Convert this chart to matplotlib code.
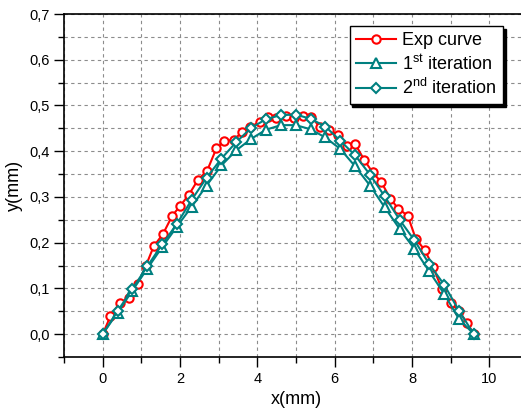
import matplotlib
matplotlib.use('Agg')
import matplotlib.pyplot as plt
from matplotlib.ticker import MultipleLocator, FuncFormatter

plt.rcParams['font.family'] = ['Liberation Sans', 'DejaVu Sans']
plt.rcParams['mathtext.fontset'] = 'custom'
plt.rcParams['mathtext.rm'] = 'Liberation Sans'
plt.rcParams['mathtext.it'] = 'Liberation Sans'

# Exp curve (measured)
x_exp = [0.0, 0.2, 0.44, 0.68, 0.91, 1.11, 1.32, 1.56, 1.80, 2.01, 2.23, 2.47, 2.70, 2.94,
         3.15, 3.39, 3.61, 3.82, 4.06, 4.27, 4.49, 4.74, 4.96, 5.17, 5.39, 5.62, 5.86, 6.08,
         6.31, 6.53, 6.77, 6.98, 7.21, 7.44, 7.65, 7.89, 8.10, 8.33, 8.55, 8.77, 9.00, 9.22,
         9.42, 9.6]
y_exp = [0.0, 0.039, 0.068, 0.079, 0.110, 0.148, 0.192, 0.219, 0.259, 0.281, 0.305, 0.338,
         0.357, 0.406, 0.422, 0.425, 0.442, 0.453, 0.464, 0.474, 0.472, 0.478, 0.472, 0.477,
         0.475, 0.453, 0.447, 0.436, 0.412, 0.416, 0.380, 0.354, 0.332, 0.296, 0.274, 0.259,
         0.208, 0.184, 0.146, 0.099, 0.067, 0.050, 0.025, 0.0]

# 1st iteration
x_it1 = [0.0, 0.384, 0.768, 1.152, 1.536, 1.92, 2.304, 2.688, 3.072, 3.456, 3.84, 4.224,
         4.608, 4.992, 5.376, 5.76, 6.144, 6.528, 6.912, 7.296, 7.68, 8.064, 8.448, 8.832,
         9.216, 9.6]
y_it1 = [0.0, 0.047, 0.095, 0.143, 0.190, 0.235, 0.279, 0.325, 0.369, 0.402, 0.427, 0.447,
         0.457, 0.457, 0.448, 0.430, 0.405, 0.367, 0.325, 0.277, 0.230, 0.186, 0.137, 0.088,
         0.033, 0.0]

# 2nd iteration
x_it2 = [0.0, 0.384, 0.768, 1.152, 1.536, 1.92, 2.304, 2.688, 3.072, 3.456, 3.84, 4.224,
         4.608, 4.992, 5.376, 5.76, 6.144, 6.528, 6.912, 7.296, 7.68, 8.064, 8.448, 8.832,
         9.216, 9.6]
y_it2 = [0.0, 0.050, 0.099, 0.148, 0.196, 0.241, 0.294, 0.342, 0.384, 0.420, 0.451, 0.470,
         0.479, 0.480, 0.471, 0.454, 0.423, 0.391, 0.349, 0.301, 0.250, 0.205, 0.153, 0.108,
         0.051, 0.0]

red = '#ff0000'
teal = '#008080'

fig = plt.figure(figsize=(5.21, 4.16), dpi=100)
ax = fig.add_axes([64 / 521, 59 / 416, 464 / 521, 343 / 416])

ax.plot(x_exp, y_exp, color=red, lw=1.5, marker='o', ms=6, mfc='white', mec=red,
        mew=1.5, label='Exp curve', zorder=3)
ax.plot(x_it1, y_it1, color=teal, lw=1.5, marker='^', ms=6.5, mfc='white', mec=teal,
        mew=1.5, label=r'1$^{\mathrm{st}}$ iteration', zorder=4)
ax.plot(x_it2, y_it2, color=teal, lw=1.5, marker='D', ms=5, mfc='white', mec=teal,
        mew=1.5, label=r'2$^{\mathrm{nd}}$ iteration', zorder=5)

ax.set_xlim(-1, 11)
ax.set_ylim(-0.05, 0.7)
ax.xaxis.set_major_locator(MultipleLocator(2))
ax.xaxis.set_minor_locator(MultipleLocator(1))
ax.yaxis.set_major_locator(MultipleLocator(0.1))
ax.yaxis.set_minor_locator(MultipleLocator(0.05))
ax.yaxis.set_major_formatter(FuncFormatter(lambda v, p: f'{v:.1f}'.replace('.', ',')))
ax.tick_params(which='major', direction='out', length=7, width=1, labelsize=10.5)
ax.tick_params(which='minor', direction='out', length=4, width=1)
ax.grid(True, which='both', color='#8c8c8c', ls=(0, (3, 3)), lw=0.8)
ax.set_axisbelow(True)
for s in ax.spines.values():
    s.set_linewidth(1.2)

ax.set_xlabel('x(mm)', fontsize=13, labelpad=4)
ax.set_ylabel('y(mm)', fontsize=13, labelpad=4)

leg = ax.legend(loc='upper right', bbox_to_anchor=(503 / 521, 390 / 416),
                bbox_transform=fig.transFigure, borderaxespad=0, fontsize=13,
                numpoints=1, handlelength=2.2, handletextpad=0.35, labelspacing=0.25,
                borderpad=0.35, fancybox=False, framealpha=1, edgecolor='black',
                shadow={'color': 'black', 'alpha': 1})
leg.get_frame().set_linewidth(1)

fig.savefig('out.png', dpi=100)
